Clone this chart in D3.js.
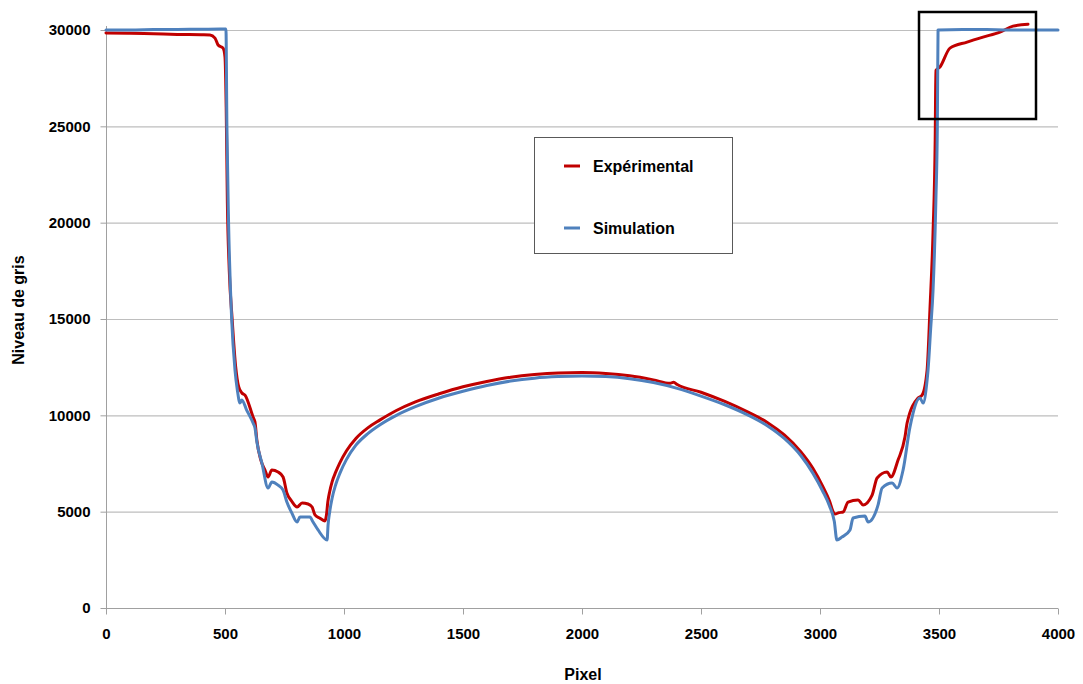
<!DOCTYPE html>
<html>
<head>
<meta charset="utf-8">
<script src="https://cdn.jsdelivr.net/npm/d3@7"></script>
<style>
  html, body { margin: 0; padding: 0; background: #fff; }
  svg { display: block; }
  text { font-family: "Liberation Sans", Arial, sans-serif; font-weight: bold; fill: #000; }
</style>
</head>
<body>
<svg id="chart" width="1083" height="684"></svg>
<script>
// ---- Data ----
const xTicks = [0, 500, 1000, 1500, 2000, 2500, 3000, 3500, 4000];
const yTicks = [0, 5000, 10000, 15000, 20000, 25000, 30000];
const seriesNames = ["Expérimental", "Simulation"];

const expX = [0, 100, 200, 300, 400, 437, 458, 471, 492, 500, 505, 510, 518, 530, 545, 557, 571, 584, 618, 626, 634, 650, 668, 681, 697, 723, 744, 760, 780, 803, 824, 849, 866, 878, 900, 920,
  926, 932, 940, 950, 965, 983, 1010, 1050, 1100, 1150, 1220, 1300, 1400, 1500, 1600, 1700, 1800, 1900, 2000, 2100, 2200, 2300, 2370, 2385, 2400, 2500, 2600, 2700, 2780, 2850, 2920, 2970, 3010, 3040, 3055, 3063,
  3080, 3097, 3118, 3160, 3181, 3219, 3240, 3282, 3298, 3328, 3357, 3366, 3412, 3429, 3450, 3462, 3475, 3484, 3487, 3504, 3546, 3618, 3685, 3756, 3811, 3874];
const expY = [29850, 29830, 29800, 29770, 29750, 29740, 29580, 29220, 29060, 28600, 26000, 21000, 17500, 15000, 12500, 11500, 11160, 11050, 9910, 9650, 8700, 7700, 7160, 6800, 7160, 7060, 6800, 5970, 5550, 5240, 5450, 5400, 5240, 4830, 4650, 4520,
  4800, 5500, 6050, 6550, 7050, 7550, 8150, 8800, 9350, 9750, 10250, 10700, 11120, 11480, 11760, 11980, 12120, 12200, 12220, 12170, 12050, 11840, 11660, 11720, 11600, 11200, 10720, 10150, 9620, 8980, 8100, 7250, 6350, 5550, 5000, 4880,
  4950, 4980, 5500, 5610, 5350, 5860, 6750, 7060, 6800, 7680, 8870, 9600, 10900, 11050, 12350, 15500, 19500, 24300, 27900, 28080, 29060, 29370, 29630, 29890, 30200, 30300];

const simX = [0, 100, 200, 300, 400, 480, 504, 508, 515, 528, 542, 552, 563, 571, 590, 618, 626, 634, 655, 681, 697, 723, 744, 760, 780, 803, 815, 857, 870, 891, 929,
  933, 940, 950, 965, 983, 1010, 1050, 1100, 1150, 1220, 1300, 1400, 1500, 1600, 1700, 1800, 1900, 2000, 2100, 2200, 2300, 2400, 2500, 2600, 2700, 2780, 2850, 2920, 2970, 3010, 3040, 3060, 3071,
  3092, 3126, 3139, 3189, 3202, 3244, 3261, 3303, 3324, 3349, 3378, 3420, 3433, 3450, 3454, 3465, 3475, 3487, 3493, 3496, 3600, 3700, 3800, 3900, 4000];
const simY = [30000, 30000, 30020, 30030, 30040, 30050, 30050, 25000, 20000, 15000, 12350, 11300, 10640, 10800, 10300, 9600, 9340, 8615, 7525, 6230, 6540, 6380, 6120, 5500, 4950, 4460, 4720, 4720, 4460, 4050, 3530,
  4300, 5000, 5700, 6400, 7000, 7700, 8450, 9050, 9500, 10000, 10450, 10900, 11250, 11550, 11780, 11930, 12010, 12040, 12010, 11900, 11700, 11400, 11000, 10550, 10000, 9450, 8800, 7900, 7000, 6100, 5300, 4500, 3530,
  3680, 4050, 4670, 4770, 4460, 5350, 6230, 6490, 6230, 7160, 9390, 10900, 10640, 11830, 12350, 14500, 16500, 21200, 25000, 30000, 30030, 30020, 30000, 30000, 30000];

const seriesColors = ["#C00000", "#4F81BD"];

// ---- Chart ----
const svg = d3.select("#chart");
const pLeft = 106, pRight = 1058, pTop = 30, pBottom = 608;
const x = d3.scaleLinear().domain([0, 4000]).range([pLeft, pRight]);
const y = d3.scaleLinear().domain([0, 30000]).range([pBottom, pTop]);

// gridlines
svg.append("g").selectAll("line").data(yTicks.filter(d => d > 0)).join("line")
  .attr("x1", pLeft).attr("x2", pRight)
  .attr("y1", d => y(d) + 0.5).attr("y2", d => y(d) + 0.5)
  .attr("stroke", "#BEBEBE").attr("stroke-width", 1.2);

// axes
const yAxis = d3.axisLeft(y).tickValues(yTicks).tickSize(6).tickPadding(10).tickFormat(d3.format("d"));
const gy = svg.append("g").attr("transform", `translate(${pLeft + 0.5},0)`).call(yAxis);
gy.select(".domain").attr("stroke", "#A0A0A0").attr("d", `M0,${pTop - 4}V${pBottom}`);
gy.selectAll(".tick line").attr("stroke", "#A0A0A0");
gy.selectAll(".tick text").style("font-size", "15px").style("font-family", "Liberation Sans, Arial, sans-serif").style("font-weight", "bold").attr("fill", "#000");

const xAxis = d3.axisBottom(x).tickValues(xTicks).tickSize(6).tickPadding(14).tickFormat(d3.format("d"));
const gx = svg.append("g").attr("transform", `translate(0,${pBottom + 0.5})`).call(xAxis);
gx.select(".domain").attr("stroke", "#A0A0A0").attr("d", `M${pLeft},0H${pRight}`);
gx.selectAll(".tick line").attr("stroke", "#A0A0A0");
gx.selectAll(".tick text").style("font-size", "15px").style("font-family", "Liberation Sans, Arial, sans-serif").style("font-weight", "bold").attr("fill", "#000");

// series
const line = d3.line().x(d => x(d[0])).y(d => y(d[1])).curve(d3.curveMonotoneX);
const series = [
  d3.zip(expX, expY),
  d3.zip(simX, simY)
];
series.forEach((pts, i) => {
  svg.append("path").datum(pts)
    .attr("d", line)
    .attr("fill", "none")
    .attr("stroke", seriesColors[i])
    .attr("stroke-width", 3)
    .attr("stroke-linejoin", "round")
    .attr("stroke-linecap", "round");
});

// axis titles
svg.append("text").attr("x", 583).attr("y", 680).attr("text-anchor", "middle")
  .style("font-size", "16px").text("Pixel");
svg.append("text").attr("transform", "translate(24,310) rotate(-90)").attr("text-anchor", "middle")
  .style("font-size", "16px").text("Niveau de gris");

// legend
const lg = svg.append("g");
lg.append("rect").attr("x", 534.5).attr("y", 137.5).attr("width", 198).attr("height", 116)
  .attr("fill", "#fff").attr("stroke", "#595959").attr("stroke-width", 1);
const legendY = [166, 228];
seriesNames.forEach((name, i) => {
  lg.append("line").attr("x1", 564).attr("x2", 580).attr("y1", legendY[i]).attr("y2", legendY[i])
    .attr("stroke", seriesColors[i]).attr("stroke-width", 3);
  lg.append("text").attr("x", 593).attr("y", legendY[i] + 6).style("font-size", "16px").text(name);
});

// highlight rectangle
svg.append("rect").attr("x", 919).attr("y", 12).attr("width", 117).attr("height", 107)
  .attr("fill", "none").attr("stroke", "#000").attr("stroke-width", 2.5);
</script>
</body>
</html>
